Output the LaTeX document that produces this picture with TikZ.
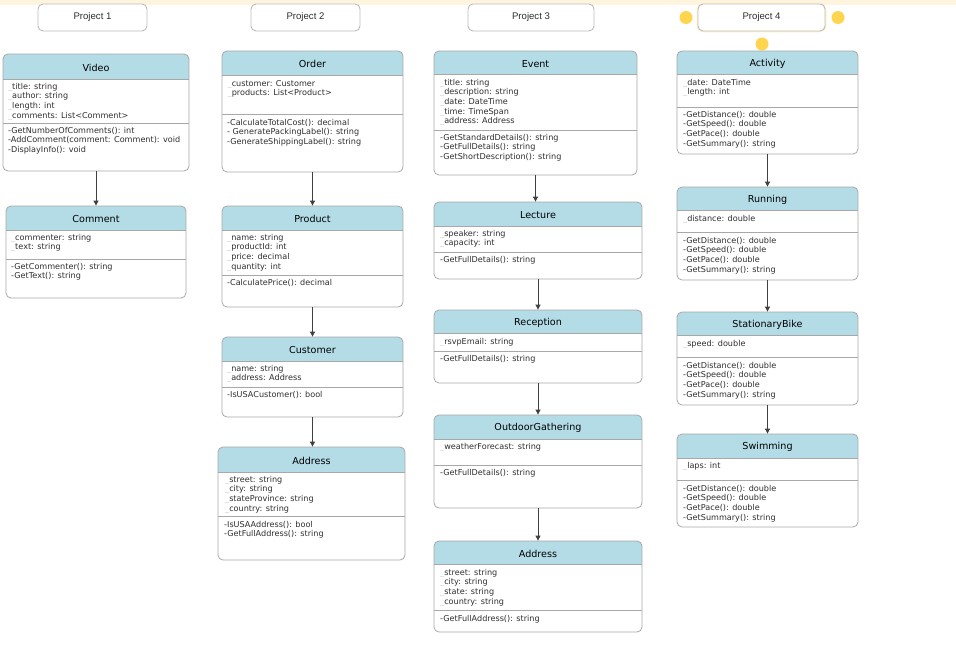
\documentclass[tikz,border=0pt]{standalone}
\usepackage{fontspec}
\usetikzlibrary{arrows.meta}
\newfontfamily\dvfont{DejaVu Sans}
\newfontfamily\lsfont{Liberation Sans}

\definecolor{bandcream}{HTML}{FFF4DE}
\definecolor{hdrblue}{HTML}{B4DCE7}
\definecolor{boxgray}{HTML}{A8A8A8}
\definecolor{projgray}{HTML}{BBBBBB}
\definecolor{txtdark}{HTML}{2E2E2E}
\definecolor{uscore}{HTML}{CFCFCF}
\definecolor{dotyellow}{HTML}{FFD54F}
\definecolor{glowyellow}{HTML}{FFF3C8}
\definecolor{arrowgray}{HTML}{404040}

\tikzset{
  projbox/.style={draw=projgray, line width=0.9pt, rounded corners=5pt, fill=white,
    inner sep=0pt, font=\lsfont\fontsize{9.6}{11}\selectfont, text=txtdark},
  classbox/.style={draw=boxgray, line width=0.8pt, rounded corners=5pt, inner sep=0pt},
  hdrfill/.style={fill=hdrblue},
  sepline/.style={draw=boxgray, line width=0.8pt},
  classtitle/.style={inner sep=0pt, font=\dvfont\fontsize{9.6}{11}\selectfont, text=black},
  member/.style={anchor=mid west, inner sep=0pt, font=\dvfont\fontsize{8.1}{9}\selectfont, text=txtdark},
  link/.style={draw=arrowgray, line width=0.9pt, -{Triangle[length=5pt,width=5pt]}},
  handle/.style={fill=dotyellow, draw=none},
}

% class box: name, left, right, top, header bottom, divider, bottom, title
\newcommand{\umlclass}[8]{%
  \pgfmathsetmacro\ucw{#3-#2}%
  \pgfmathsetmacro\uch{#7-#4}%
  \pgfmathsetmacro\ucx{(#2+#3)/2}%
  \pgfmathsetmacro\ucy{(#4+#7)/2}%
  \pgfmathsetmacro\uct{(#4+#5)/2+1.3}%
  \begin{scope}
    \clip[rounded corners=5pt] (#2,#4) rectangle (#3,#7);
    \fill[hdrfill] (#2,#4) rectangle (#3,#5);
  \end{scope}
  \node[classbox, minimum width=\ucw pt, minimum height=\uch pt] (#1) at (\ucx,\ucy) {};
  \draw[sepline] (#2,#5) -- (#3,#5);
  \draw[sepline] (#2,#6) -- (#3,#6);
  \node[classtitle] (#1-title) at (\ucx,\uct) {#8};
}
% attribute lines (with faint leading underscore): name, x, first y, list
\newcommand{\attrlines}[4]{%
  \foreach \txt [count=\i] in {#4} {
    \node[member] (#1-a\i) at (#2,{#3+(\i-1)*9.7}) {\textcolor{uscore}{\_}\txt};
  }
}
% method lines: name, x, first y, list
\newcommand{\methlines}[4]{%
  \foreach \txt [count=\i] in {#4} {
    \node[member] (#1-m\i) at (#2,{#3+(\i-1)*9.7}) {\txt};
  }
}

\begin{document}
\begin{tikzpicture}[x=1pt, y=-1pt]
\useasboundingbox (0,0) rectangle (956,652);
\fill[white] (0,0) rectangle (956,652);
\fill[bandcream] (0,0) rectangle (956,4.6);

% ---------- project headers ----------
\node[projbox, minimum width=109pt, minimum height=27pt] (p1) at (92.5,17.5) {Project 1};
\node[projbox, minimum width=109pt, minimum height=27pt] (p2) at (305.5,17.5) {Project 2};
\node[projbox, minimum width=126pt, minimum height=27pt] (p3) at (531,17.5) {Project 3};
\draw[glowyellow, line width=3pt, rounded corners=6pt] (698,4.5) rectangle (825,31);
\node[projbox, minimum width=127pt, minimum height=27pt] (p4) at (761.5,17.5) {Project 4};
\fill[handle] (686,17.5) circle (6.5);
\fill[handle] (838,17.5) circle (6.5);
\fill[handle] (762,44) circle (6.5);

% ---------- Project 1 ----------
\umlclass{video}{3}{189}{54}{79}{123}{171}{Video}
\attrlines{video}{8}{87}{title: string, author: string, length: int, comments: List<Comment>}
\methlines{video}{8}{131}{-GetNumberOfComments(): int, -AddComment(comment: Comment): void, -DisplayInfo(): void}

\umlclass{comment}{6}{186}{206}{230}{259}{298}{Comment}
\attrlines{comment}{11}{238}{commenter: string, text: string}
\methlines{comment}{11}{267}{-GetCommenter(): string, -GetText(): string}

% ---------- Project 2 ----------
\umlclass{order}{222}{403}{51}{75}{114}{172}{Order}
\attrlines{order}{227.5}{84}{customer: Customer, products: List<Product>}
\methlines{order}{227}{123}{-CalculateTotalCost(): decimal, - GeneratePackingLabel(): string, -GenerateShippingLabel(): string}

\umlclass{product}{222}{403}{206}{230}{275}{307}{Product}
\attrlines{product}{227}{238}{name: string, productId: int, price: decimal, quantity: int}
\methlines{product}{227}{283}{-CalculatePrice(): decimal}

\umlclass{customer}{222}{403}{337}{361}{387}{417}{Customer}
\attrlines{customer}{227}{369}{name: string, address: Address}
\methlines{customer}{227}{395}{-IsUSACustomer(): bool}

\umlclass{addressA}{218}{405}{447}{472}{516}{560}{Address}
\attrlines{addressA}{225}{480}{street: string, city: string, stateProvince: string, country: string}
\methlines{addressA}{224}{525}{-IsUSAAddress(): bool, -GetFullAddress(): string}

% ---------- Project 3 ----------
\umlclass{event}{434}{637}{51}{74}{130}{175}{Event}
\attrlines{event}{440}{83}{title: string, description: string, date: DateTime, time: TimeSpan, address: Address}
\methlines{event}{440}{138}{-GetStandardDetails(): string, -GetFullDetails(): string, -GetShortDescription(): string}

\umlclass{lecture}{434}{642}{202}{226}{252}{279}{Lecture}
\attrlines{lecture}{440}{234}{speaker: string, capacity: int}
\methlines{lecture}{440}{260}{-GetFullDetails(): string}

\umlclass{reception}{434}{642}{310}{333}{351}{383}{Reception}
\attrlines{reception}{440}{342}{rsvpEmail: string}
\methlines{reception}{440}{359}{-GetFullDetails(): string}

\umlclass{outdoor}{434}{642}{415}{439}{465}{508}{OutdoorGathering}
\attrlines{outdoor}{440}{447}{weatherForecast: string}
\methlines{outdoor}{440}{473}{-GetFullDetails(): string}

\umlclass{addressB}{434}{642}{541}{564}{610}{632}{Address}
\attrlines{addressB}{440}{573}{street: string, city: string, state: string, country: string}
\methlines{addressB}{440}{619}{-GetFullAddress(): string}

% ---------- Project 4 ----------
\umlclass{activity}{677}{858}{51}{74}{107}{154}{Activity}
\attrlines{activity}{683}{83}{date: DateTime, length: int}
\methlines{activity}{683}{115}{-GetDistance(): double, -GetSpeed(): double, -GetPace(): double, -GetSummary(): string}

\umlclass{running}{677}{858}{187}{210}{232}{280}{Running}
\attrlines{running}{683}{219}{distance: double}
\methlines{running}{683}{241}{-GetDistance(): double, -GetSpeed(): double, -GetPace(): double, -GetSummary(): string}

\umlclass{bike}{677}{858}{312}{335}{357}{405}{StationaryBike}
\attrlines{bike}{683}{344}{speed: double}
\methlines{bike}{683}{366}{-GetDistance(): double, -GetSpeed(): double, -GetPace(): double, -GetSummary(): string}

\umlclass{swimming}{677}{858}{434}{458}{480}{527}{Swimming}
\attrlines{swimming}{683}{466}{laps: int}
\methlines{swimming}{683}{489}{-GetDistance(): double, -GetSpeed(): double, -GetPace(): double, -GetSummary(): string}

% ---------- connectors ----------
\draw[link] (video.south) -- (video.south |- comment.north);
\draw[link] (order.south) -- (order.south |- product.north);
\draw[link] (product.south) -- (product.south |- customer.north);
\draw[link] (customer.south) -- (customer.south |- addressA.north);
\draw[link] (event.south) -- (event.south |- lecture.north);
\draw[link] (lecture.south) -- (lecture.south |- reception.north);
\draw[link] (reception.south) -- (reception.south |- outdoor.north);
\draw[link] (outdoor.south) -- (outdoor.south |- addressB.north);
\draw[link] (activity.south) -- (activity.south |- running.north);
\draw[link] (running.south) -- (running.south |- bike.north);
\draw[link] (bike.south) -- (bike.south |- swimming.north);
\end{tikzpicture}
\end{document}
